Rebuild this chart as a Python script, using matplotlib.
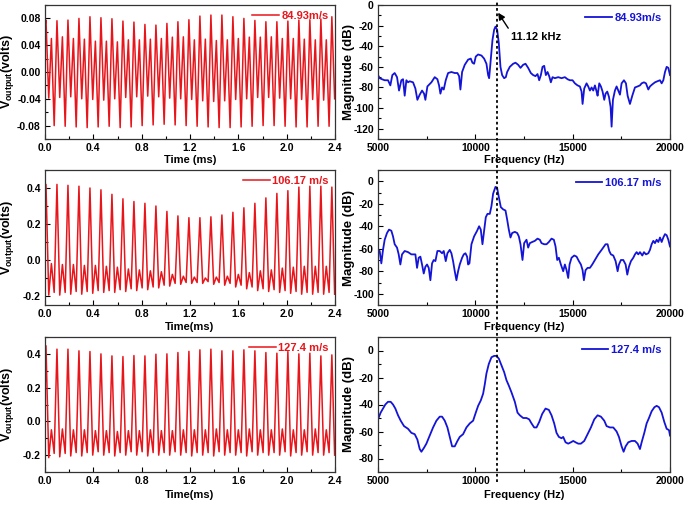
import numpy as np
import matplotlib
matplotlib.use('Agg')
import matplotlib.pyplot as plt
import matplotlib.transforms as mtransforms
from matplotlib.lines import Line2D
from matplotlib.ticker import MultipleLocator, FormatStrFormatter

plt.rcParams['font.family'] = ['Liberation Sans', 'DejaVu Sans']
plt.rcParams['font.weight'] = 'bold'
plt.rcParams['mathtext.fontset'] = 'custom'
plt.rcParams['mathtext.rm'] = 'Liberation Sans:bold'
plt.rcParams['mathtext.bf'] = 'Liberation Sans:bold'
plt.rcParams['axes.unicode_minus'] = False

# ---- time signals: extrema of every cycle (ms), shared by the three speeds
t_start = 0.0
t_rows = [
    [0.008, 0.031, 0.053, 0.076], [0.099, 0.122, 0.144, 0.167],
    [0.190, 0.213, 0.235, 0.258], [0.281, 0.304, 0.326, 0.349],
    [0.372, 0.395, 0.417, 0.440], [0.463, 0.486, 0.508, 0.531],
    [0.554, 0.577, 0.599, 0.622], [0.645, 0.668, 0.690, 0.713],
    [0.736, 0.759, 0.781, 0.804], [0.827, 0.850, 0.872, 0.895],
    [0.918, 0.941, 0.963, 0.986], [1.009, 1.032, 1.054, 1.077],
    [1.100, 1.123, 1.145, 1.168], [1.191, 1.214, 1.236, 1.259],
    [1.282, 1.305, 1.327, 1.350], [1.373, 1.396, 1.418, 1.441],
    [1.464, 1.487, 1.509, 1.532], [1.555, 1.578, 1.600, 1.623],
    [1.646, 1.669, 1.691, 1.714], [1.737, 1.760, 1.782, 1.805],
    [1.828, 1.851, 1.873, 1.896], [1.919, 1.942, 1.964, 1.987],
    [2.010, 2.033, 2.055, 2.078], [2.101, 2.124, 2.146, 2.169],
    [2.192, 2.215, 2.237, 2.260], [2.283, 2.306, 2.328, 2.351],
    [2.374, 2.397],
]

# 84.93 m/s : peak, shallow trough, small peak, deep trough (volts)
v1_start = 0.070
v1_rows = [
    [0.0775, -0.039, 0.050, -0.080], [0.0765, -0.038, 0.0525, -0.081],
    [0.0775, -0.037, 0.050, -0.082], [0.080, -0.040, 0.049, -0.083],
    [0.0825, -0.041, 0.046, -0.082], [0.081, -0.042, 0.046, -0.081],
    [0.0795, -0.040, 0.045, -0.083], [0.076, -0.038, 0.048, -0.082],
    [0.0745, -0.037, 0.048, -0.080], [0.071, -0.036, 0.049, -0.079],
    [0.070, -0.037, 0.050, -0.078], [0.0725, -0.039, 0.052, -0.079],
    [0.075, -0.040, 0.0525, -0.080], [0.078, -0.041, 0.048, -0.081],
    [0.0835, -0.043, 0.049, -0.082], [0.085, -0.044, 0.047, -0.083],
    [0.085, -0.043, 0.048, -0.083], [0.0825, -0.041, 0.050, -0.082],
    [0.080, -0.040, 0.052, -0.081], [0.077, -0.038, 0.052, -0.080],
    [0.075, -0.038, 0.0525, -0.080], [0.075, -0.039, 0.050, -0.081],
    [0.076, -0.040, 0.050, -0.082], [0.0775, -0.041, 0.049, -0.082],
    [0.078, -0.041, 0.048, -0.081], [0.079, -0.042, 0.048, -0.081],
    [0.0825, -0.040],
]

# 106.17 m/s : peak, trough, small peak, trough
v2_start = 0.20
v2_rows = [
    [0.420, -0.195, -0.020, -0.180], [0.420, -0.195, -0.025, -0.180],
    [0.415, -0.190, -0.025, -0.175], [0.410, -0.190, -0.030, -0.175],
    [0.400, -0.185, -0.030, -0.170], [0.390, -0.180, -0.035, -0.170],
    [0.365, -0.180, -0.040, -0.165], [0.340, -0.175, -0.050, -0.160],
    [0.325, -0.170, -0.055, -0.155], [0.315, -0.165, -0.060, -0.150],
    [0.300, -0.155, -0.065, -0.140], [0.270, -0.145, -0.080, -0.130],
    [0.245, -0.135, -0.090, -0.125], [0.235, -0.130, -0.095, -0.125],
    [0.235, -0.130, -0.100, -0.120], [0.240, -0.135, -0.095, -0.125],
    [0.250, -0.140, -0.090, -0.130], [0.265, -0.150, -0.080, -0.140],
    [0.290, -0.160, -0.070, -0.150], [0.315, -0.170, -0.060, -0.160],
    [0.345, -0.175, -0.055, -0.165], [0.370, -0.180, -0.045, -0.170],
    [0.385, -0.185, -0.040, -0.175], [0.405, -0.190, -0.035, -0.180],
    [0.410, -0.190, -0.035, -0.180], [0.410, -0.190, -0.035, -0.180],
    [0.405, -0.190],
]

# 127.4 m/s
v3_start = 0.15
v3_rows = [
    [0.448, -0.215, -0.050, -0.190], [0.428, -0.210, -0.045, -0.190],
    [0.428, -0.205, -0.050, -0.185], [0.418, -0.205, -0.050, -0.185],
    [0.414, -0.200, -0.055, -0.180], [0.400, -0.200, -0.055, -0.185],
    [0.388, -0.205, -0.060, -0.185], [0.384, -0.200, -0.055, -0.180],
    [0.390, -0.200, -0.055, -0.180], [0.388, -0.205, -0.050, -0.185],
    [0.398, -0.200, -0.055, -0.185], [0.400, -0.200, -0.055, -0.180],
    [0.408, -0.200, -0.050, -0.185], [0.415, -0.205, -0.050, -0.185],
    [0.424, -0.200, -0.050, -0.185], [0.428, -0.205, -0.045, -0.180],
    [0.418, -0.200, -0.050, -0.185], [0.418, -0.200, -0.050, -0.185],
    [0.424, -0.205, -0.045, -0.180], [0.418, -0.200, -0.050, -0.185],
    [0.408, -0.200, -0.050, -0.185], [0.404, -0.200, -0.045, -0.180],
    [0.414, -0.205, -0.050, -0.185], [0.400, -0.200, -0.050, -0.180],
    [0.404, -0.200, -0.045, -0.185], [0.388, -0.200, -0.050, -0.185],
    [0.394, -0.200],
]

# ---- spectra (Hz, dB)
f1 = [5000, 5086, 5206, 5343, 5514, 5634, 5737, 5857, 5977, 6080,
      6200, 6286, 6371, 6457, 6543, 6629, 6800, 6920, 7023, 7143,
      7263, 7366, 7434, 7537, 7743, 7914, 8051, 8137, 8206, 8291,
      8377, 8480, 8600, 8771, 8943, 9080, 9166, 9234, 9320, 9457,
      9629, 9766, 9851, 9937, 10023, 10143, 10314, 10451, 10571, 10657,
      10709, 10794, 10880, 10966, 11034, 11120, 11206, 11291, 11377, 11480,
      11566, 11634, 11771, 11943, 12063, 12200, 12320, 12457, 12577, 12714,
      12851, 12971, 13091, 13194, 13280, 13366, 13451, 13537, 13623, 13709,
      13794, 13880, 13966, 14086, 14257, 14429, 14600, 14737, 14857, 14994,
      15114, 15251, 15371, 15457, 15509, 15594, 15714, 15800, 15886, 15971,
      16057, 16143, 16229, 16280, 16366, 16451, 16537, 16623, 16691, 16777,
      16863, 16949, 17000, 17069, 17171, 17257, 17343, 17429, 17514, 17634,
      17737, 17823, 17943, 18063, 18200, 18337, 18457, 18543, 18663, 18766,
      18886, 18971, 19091, 19229, 19349, 19486, 19571, 19657, 19743, 19829,
      19914, 20000]
db1 = [-68, -71, -72, -73, -73, -78, -68, -66, -70, -83,
       -73, -72, -88, -73, -75, -74, -75, -81, -92, -87,
       -83, -86, -92, -79, -75, -70, -72, -78, -86, -80,
       -82, -73, -66, -65, -66, -66, -69, -82, -65, -58,
       -53, -52, -56, -57, -50, -48, -49, -52, -57, -68,
       -71, -53, -34, -24, -21, -24, -37, -60, -68, -71,
       -70, -65, -60, -57, -56, -58, -61, -58, -57, -61,
       -66, -68, -69, -67, -73, -68, -60, -59, -68, -65,
       -69, -75, -70, -71, -70, -71, -70, -72, -73, -73,
       -76, -78, -79, -84, -96, -81, -76, -79, -83, -80,
       -83, -78, -84, -88, -76, -79, -84, -92, -86, -84,
       -89, -99, -118, -92, -83, -79, -83, -87, -76, -73,
       -76, -88, -96, -88, -80, -79, -78, -76, -75, -76,
       -82, -79, -77, -75, -74, -73, -76, -73, -65, -60,
       -61, -68]

f2 = [5000, 5086, 5171, 5257, 5343, 5463, 5566, 5686, 5771, 5857,
      5977, 6063, 6149, 6234, 6371, 6543, 6714, 6834, 6920, 7006,
      7091, 7177, 7263, 7349, 7434, 7520, 7606, 7691, 7777, 7863,
      7949, 8051, 8171, 8291, 8377, 8480, 8566, 8686, 8771, 8857,
      8943, 9029, 9114, 9200, 9320, 9406, 9491, 9577, 9629, 9697,
      9800, 9937, 10091, 10194, 10280, 10366, 10451, 10537, 10623, 10743,
      10829, 10914, 11034, 11120, 11206, 11309, 11429, 11549, 11634, 11720,
      11806, 11891, 12029, 12149, 12234, 12320, 12423, 12509, 12629, 12714,
      12800, 12920, 13057, 13194, 13314, 13400, 13537, 13657, 13777, 13914,
      14034, 14120, 14206, 14291, 14394, 14514, 14600, 14686, 14771, 14840,
      14943, 15080, 15200, 15320, 15423, 15509, 15577, 15663, 15766, 15886,
      16006, 16143, 16314, 16486, 16606, 16691, 16794, 16880, 16966, 17086,
      17206, 17309, 17377, 17480, 17600, 17720, 17806, 17891, 17994, 18114,
      18200, 18286, 18371, 18457, 18577, 18663, 18766, 18886, 18971, 19057,
      19143, 19229, 19314, 19400, 19486, 19571, 19657, 19743, 19829, 19914,
      20000]
db2 = [-61, -62, -73, -61, -52, -46, -43, -44, -49, -56,
       -59, -65, -74, -65, -62, -63, -65, -65, -65, -77,
       -68, -67, -74, -82, -76, -74, -77, -88, -73, -70,
       -71, -62, -62, -64, -62, -71, -64, -61, -64, -71,
       -80, -88, -80, -74, -68, -65, -64, -67, -74, -73,
       -56, -49, -44, -40, -43, -56, -44, -32, -29, -29,
       -22, -11, -5, -6, -14, -23, -25, -26, -34, -43,
       -50, -46, -45, -46, -49, -56, -70, -55, -52, -59,
       -55, -54, -53, -51, -52, -55, -56, -56, -54, -51,
       -52, -58, -70, -68, -74, -80, -74, -79, -86, -74,
       -68, -66, -67, -71, -74, -79, -88, -79, -77, -77,
       -74, -70, -65, -61, -58, -56, -56, -62, -65, -66,
       -71, -80, -74, -70, -70, -74, -83, -76, -71, -68,
       -65, -63, -65, -63, -66, -63, -65, -64, -61, -56,
       -53, -55, -52, -54, -50, -54, -50, -47, -48, -52,
       -58]

f3 = [5000, 5137, 5257, 5377, 5514, 5651, 5771, 5891, 6029, 6166,
      6337, 6543, 6714, 6886, 7023, 7143, 7229, 7366, 7486, 7657,
      7829, 8000, 8171, 8291, 8429, 8566, 8686, 8806, 8943, 9080,
      9200, 9371, 9543, 9714, 9886, 10023, 10143, 10280, 10400, 10486,
      10571, 10691, 10829, 10966, 11086, 11206, 11343, 11480, 11600, 11720,
      11857, 12029, 12166, 12286, 12457, 12629, 12766, 12886, 13023, 13143,
      13280, 13434, 13606, 13777, 13914, 14051, 14171, 14291, 14429, 14514,
      14634, 14771, 14909, 15029, 15149, 15286, 15423, 15594, 15766, 15937,
      16109, 16280, 16451, 16623, 16743, 16914, 17086, 17257, 17377, 17514,
      17617, 17720, 17857, 18029, 18200, 18337, 18457, 18543, 18680, 18800,
      18920, 19057, 19200, 19314, 19434, 19571, 19709, 19829, 19949, 20000]
db3 = [-51, -46, -43, -40, -38, -38, -40, -43, -48, -52,
       -56, -58, -61, -62, -66, -73, -75, -72, -69, -63,
       -57, -52, -49, -49, -52, -57, -64, -71, -71, -67,
       -64, -62, -57, -54, -52, -46, -41, -37, -32, -25,
       -17, -10, -5, -4, -4, -6, -11, -16, -22, -26,
       -31, -38, -46, -48, -50, -50, -51, -54, -57, -57,
       -53, -47, -43, -44, -48, -54, -61, -64, -65, -64,
       -68, -69, -68, -67, -68, -69, -69, -67, -62, -57,
       -51, -48, -49, -52, -56, -57, -57, -60, -64, -71,
       -75, -71, -68, -67, -67, -69, -73, -68, -61, -54,
       -50, -45, -42, -41, -42, -46, -53, -58, -59, -63]

labels_t = ['84.93m/s', '106.17 m/s', '127.4 m/s']
labels_f = ['84.93m/s', '106.17 m/s', '127.4 m/s']
peak_freq = 11120
red = '#e8151b'
blue = '#1414d8'


def flat(start, rows):
    return np.array([start] + [x for r in rows for x in r])


t = flat(t_start, t_rows)
sig = [flat(v1_start, v1_rows), flat(v2_start, v2_rows), flat(v3_start, v3_rows)]
spec = [(f1, db1), (f2, db2), (f3, db3)]

fig = plt.figure(figsize=(6.85, 5.05), dpi=100)
W, H = 685., 505.
rows_px = [(5, 139), (170, 305), (337, 472)]


def style(ax, size):
    for s in ax.spines.values():
        s.set_linewidth(0.9)
        s.set_color('#333333')
    ax.tick_params(which='both', direction='in', labelsize=size, width=0.8,
                   top=False, right=False, pad=3)
    ax.tick_params(which='major', length=3.5)
    ax.tick_params(which='minor', length=2)
    for lb in ax.get_xticklabels() + ax.get_yticklabels():
        lb.set_fontweight('bold')


left_ylim = [(-0.1, 0.1), (-0.25, 0.5), (-0.3, 0.5)]
left_major = [0.04, 0.2, 0.2]
left_fmt = ['%.2f', '%.1f', '%.1f']
left_xlab = ['Time (ms)', 'Time(ms)', 'Time(ms)']
left_pad = [1, 2, 3]
right_ylim = [(-130, 0), (-110, 10), (-90, 10)]
right_top = [0, 0, 0]
right_bot = [-120, -100, -80]
right_pad = [1, 2, 3]

axes_r = []
for i in range(3):
    top, bot = rows_px[i]
    # left column: time signal
    ax = fig.add_axes([45 / W, (H - bot) / H, 290 / W, (bot - top) / H])
    ax.plot(t, sig[i], color=red, lw=1.1, label=labels_t[i])
    ax.set_xlim(0, 2.4)
    ax.set_ylim(*left_ylim[i])
    ax.xaxis.set_major_locator(MultipleLocator(0.4))
    ax.xaxis.set_minor_locator(MultipleLocator(0.2))
    ax.xaxis.set_major_formatter(FormatStrFormatter('%.1f'))
    ax.yaxis.set_major_locator(MultipleLocator(left_major[i]))
    ax.yaxis.set_minor_locator(MultipleLocator(left_major[i] / 2))
    ax.yaxis.set_major_formatter(FormatStrFormatter(left_fmt[i]))
    ax.set_xlabel(left_xlab[i], fontsize=8, fontweight='bold', labelpad=left_pad[i])
    ax.set_ylabel(r'V$_{\mathbf{output}}$(volts)', fontsize=9, fontweight='bold')
    ax.yaxis.set_label_coords(-0.1, 0.5)
    style(ax, 7.5)
    ax.legend(loc='upper right', frameon=False, handlelength=2.4, handletextpad=0.25,
              borderaxespad=0.15, prop={'weight': 'bold', 'size': 8}, labelcolor='linecolor')

    # right column: spectrum
    ax2 = fig.add_axes([378 / W, (H - bot) / H, 292 / W, (bot - top) / H])
    ax2.plot(spec[i][0], spec[i][1], color=blue, lw=1.3, label=labels_f[i])
    ax2.set_xlim(5000, 20000)
    ax2.set_ylim(*right_ylim[i])
    ax2.set_xticks([5000, 10000, 15000, 20000])
    ax2.xaxis.set_minor_locator(MultipleLocator(2500))
    ax2.set_yticks(np.arange(right_bot[i], right_top[i] + 1, 20))
    ax2.yaxis.set_minor_locator(MultipleLocator(10))
    ax2.set_xlabel('Frequency (Hz)', fontsize=8, fontweight='bold', labelpad=right_pad[i])
    ax2.set_ylabel('Magnitude (dB)', fontsize=9.5, fontweight='bold')
    ax2.yaxis.set_label_coords(-0.079, 0.5)
    style(ax2, 7.5)
    ax2.legend(loc='upper right', frameon=False, handlelength=2.4, handletextpad=0.25,
               borderaxespad=0.35, prop={'weight': 'bold', 'size': 8}, labelcolor='linecolor')
    axes_r.append(ax2)

# peak marker on the first spectrum
axes_r[0].annotate('', xy=(11170, -7.5), xytext=(11690, -22.5),
                   arrowprops=dict(arrowstyle='-|>', color='k', lw=1.0,
                                   mutation_scale=10, shrinkA=0, shrinkB=0))
axes_r[0].text(11850, -31, '11.12 kHz', fontsize=8, fontweight='bold',
               ha='left', va='center')

# dotted line through all spectra
trans = mtransforms.blended_transform_factory(axes_r[0].transData, fig.transFigure)
fig.add_artist(Line2D([peak_freq, peak_freq], [23 / H, 1.0], transform=trans,
                      color='k', lw=1.3, ls=(0, (1.5, 1.5))))

fig.savefig('out.png', dpi=100)
